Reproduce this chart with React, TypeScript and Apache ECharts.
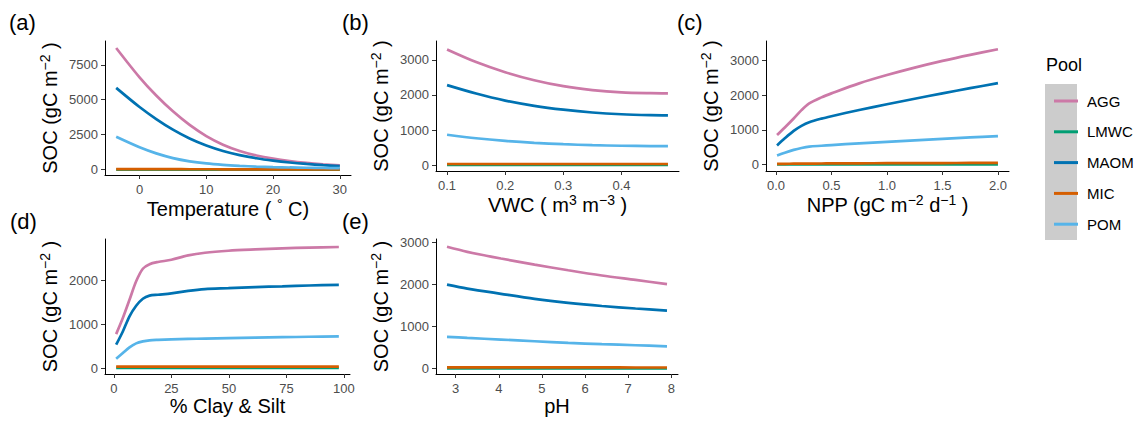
import React, { useEffect, useRef } from "react";
import * as echarts from "echarts";

const FONT = "'Liberation Sans', Arial, Helvetica, sans-serif";
const POOLS = ["AGG", "LMWC", "MAOM", "MIC", "POM"];
const COLORS = ["#CC79A7", "#009E73", "#0072B2", "#D55E00", "#56B4E9"];

// (a) Temperature
const tempX = [-3.5, 0, 2.5, 5, 7.5, 10, 12.5, 15, 17.5, 20, 22.5, 25, 27.5, 30];
const tempAGG = [8700, 6600, 5300, 4170, 3200, 2405, 1790, 1340, 1017, 785, 613, 483, 384, 306];
const tempLMWC = [4, 4, 3, 3, 3, 3, 2, 2, 2, 2, 2, 2, 2, 2];
const tempMAOM = [5850, 4480, 3620, 2860, 2230, 1730, 1340, 1045, 820, 650, 515, 410, 325, 258];
const tempMIC = [40, 38, 36, 34, 32, 30, 29, 28, 27, 26, 25, 24, 23, 22];
const tempPOM = [2350, 1600, 1165, 830, 600, 445, 345, 275, 222, 185, 158, 137, 120, 107];

// (b) VWC
const vwcX = [0.1, 0.15, 0.2, 0.25, 0.3, 0.35, 0.4, 0.45, 0.48];
const vwcAGG = [3300, 2940, 2650, 2420, 2250, 2140, 2075, 2050, 2045];
const vwcLMWC = [3, 3, 3, 3, 3, 3, 3, 3, 3];
const vwcMAOM = [2280, 2040, 1840, 1690, 1580, 1500, 1450, 1425, 1420];
const vwcMIC = [30, 30, 30, 30, 30, 30, 30, 30, 30];
const vwcPOM = [865, 765, 690, 635, 595, 567, 550, 542, 540];

// (c) NPP
const nppX = [0.01, 0.08, 0.16, 0.23, 0.3, 0.41, 0.5, 0.75, 1.0, 1.25, 1.5, 1.75, 2.0];
const nppAGG = [850, 1070, 1330, 1570, 1765, 1940, 2055, 2345, 2585, 2800, 2995, 3170, 3330];
const nppLMWC = [1, 1, 1, 1, 2, 2, 2, 2, 3, 3, 3, 3, 4];
const nppMAOM = [550, 755, 970, 1115, 1220, 1325, 1395, 1575, 1740, 1900, 2055, 2205, 2350];
const nppMIC = [15, 18, 21, 23, 25, 27, 29, 32, 35, 38, 40, 43, 45];
const nppPOM = [260, 340, 420, 475, 515, 540, 560, 610, 655, 698, 740, 780, 820];

// (d) % Clay & Silt
const claysiltX = [1, 3.9, 6.8, 9.7, 12.6, 15.5, 19.2, 25, 32.3, 39.6, 49.8, 61.5, 73.2, 84.9, 97.8];
const claysiltAGG = [770, 1135, 1550, 1970, 2255, 2360, 2410, 2460, 2560, 2620, 2665, 2695, 2720, 2735, 2750];
const claysiltLMWC = [1, 1, 1, 1, 1, 1, 1, 1, 1, 1, 1, 1, 1, 1, 1];
const claysiltMAOM = [530, 830, 1175, 1415, 1575, 1645, 1665, 1695, 1755, 1795, 1815, 1840, 1855, 1875, 1890];
const claysiltMIC = [30, 30, 30, 30, 30, 30, 30, 30, 30, 30, 30, 30, 30, 30, 30];
const claysiltPOM = [210, 340, 470, 560, 605, 630, 640, 650, 660, 670, 680, 690, 700, 710, 720];

// (e) pH
const phX = [2.8, 3.27, 4.05, 4.83, 5.61, 6.39, 7.17, 7.9];
const phAGG = [2900, 2780, 2620, 2475, 2340, 2215, 2110, 2010];
const phLMWC = [2, 2, 2, 2, 2, 2, 2, 2];
const phMAOM = [2000, 1905, 1780, 1660, 1565, 1490, 1430, 1380];
const phMIC = [28, 28, 27, 27, 26, 26, 25, 25];
const phPOM = [755, 730, 690, 650, 610, 580, 555, 530];

// tick labels
const tempTicksX = [0, 10, 20, 30];
const tempTicksY = [0, 2500, 5000, 7500];
const vwcTicksX = [0.1, 0.2, 0.3, 0.4];
const vwcTicksY = [0, 1000, 2000, 3000];
const nppTicksX = [0, 0.5, 1.0, 1.5, 2.0];
const nppTicksY = [0, 1000, 2000, 3000];
const claysiltTicksX = [0, 25, 50, 75, 100];
const claysiltTicksY = [0, 1000, 2000];
const phTicksX = [3, 4, 5, 6, 7, 8];
const phTicksY = [0, 1000, 2000, 3000];

const panelTags = ["(a)", "(b)", "(c)", "(d)", "(e)"];

const Y_NAME = "{t|SOC (gC m}{s|−2}{t| )}";

const rich = {
  t: { fontSize: 20, fontFamily: FONT, color: "#000", lineHeight: 24, verticalAlign: "middle" },
  s: { fontSize: 14, fontFamily: FONT, color: "#000", lineHeight: 12, verticalAlign: "top" },
};

export default function App() {
  const ref = useRef<HTMLDivElement>(null);
  useEffect(() => {
    if (!ref.current) return;
    const chart = echarts.init(ref.current, undefined, { renderer: "svg" });

    const panels = [
      { x: tempX, ys: [tempAGG, tempLMWC, tempMAOM, tempMIC, tempPOM], tx: tempTicksX, ty: tempTicksY,
        xmin: -5.175, xmax: 31.675, ymin: -380, ymax: 9200,
        grid: { left: 105, top: 41, width: 246, height: 134 },
        xName: "{t|Temperature ( }{s|°}{t| C)}", xGap: 18, dec: 0 },
      { x: vwcX, ys: [vwcAGG, vwcLMWC, vwcMAOM, vwcMIC, vwcPOM], tx: vwcTicksX, ty: vwcTicksY,
        xmin: 0.081, xmax: 0.499, ymin: -170, ymax: 3540,
        grid: { left: 436, top: 41, width: 243, height: 130 },
        xName: "{t|VWC ( m}{s|3}{t| m}{s|−3}{t| )}", xGap: 22, dec: 1 },
      { x: nppX, ys: [nppAGG, nppLMWC, nppMAOM, nppMIC, nppPOM], tx: nppTicksX, ty: nppTicksY,
        xmin: -0.0895, xmax: 2.0995, ymin: -190, ymax: 3570,
        grid: { left: 766, top: 41, width: 243, height: 130 },
        xName: "{t|NPP (gC m}{s|−2}{t| d}{s|−1}{t| )}", xGap: 22, dec: 1 },
      { x: claysiltX, ys: [claysiltAGG, claysiltLMWC, claysiltMAOM, claysiltMIC, claysiltPOM], tx: claysiltTicksX, ty: claysiltTicksY,
        xmin: -3.85, xmax: 102.65, ymin: -136, ymax: 2932,
        grid: { left: 105, top: 239, width: 245, height: 135 },
        xName: "{t|% Clay & Silt}", xGap: 18, dec: 0 },
      { x: phX, ys: [phAGG, phLMWC, phMAOM, phMIC, phPOM], tx: phTicksX, ty: phTicksY,
        xmin: 2.545, xmax: 8.155, ymin: -130, ymax: 3085,
        grid: { left: 436, top: 239, width: 242, height: 135 },
        xName: "{t|pH}", xGap: 18, dec: 0 },
    ];

    const axisCommon = {
      axisLine: { onZero: false, lineStyle: { color: "#000", width: 1 } },
      axisTick: { length: 4, lineStyle: { color: "#333", width: 1 } },
      splitLine: { show: false },
    };

    const grids = panels.map((p) => p.grid);
    const xAxes = panels.map((p, i) => ({
      type: "value",
      gridIndex: i,
      min: p.xmin,
      max: p.xmax,
      ...axisCommon,
      axisTick: { ...axisCommon.axisTick, customValues: p.tx },
      axisLabel: {
        customValues: p.tx,
        color: "#4D4D4D",
        fontSize: 13,
        fontFamily: FONT,
        margin: 8,
        formatter: (v: number) => (p.dec ? v.toFixed(p.dec) : String(v)),
      },
      name: p.xName,
      nameLocation: "middle",
      nameGap: p.xGap,
      nameTextStyle: { rich },
    }));
    const yAxes = panels.map((p, i) => ({
      type: "value",
      gridIndex: i,
      min: p.ymin,
      max: p.ymax,
      ...axisCommon,
      axisTick: { ...axisCommon.axisTick, customValues: p.ty },
      axisLabel: {
        customValues: p.ty,
        color: "#4D4D4D",
        fontSize: 13,
        fontFamily: FONT,
        margin: 7,
        formatter: (v: number) => String(v),
      },
      name: Y_NAME,
      nameLocation: "middle",
      nameGap: 43,
      nameTextStyle: { rich },
    }));

    const series: any[] = [];
    panels.forEach((p, gi) => {
      POOLS.forEach((pool, k) => {
        series.push({
          type: "line",
          name: pool,
          xAxisIndex: gi,
          yAxisIndex: gi,
          data: p.x.map((xv, j) => [xv, p.ys[k][j]]),
          showSymbol: false,
          symbol: "none",
          smooth: 0.3,
          lineStyle: { color: COLORS[k], width: 2.7 },
          itemStyle: { color: COLORS[k] },
          z: 2 + k,
        });
      });
    });

    const tagPos = [
      [9, 22], [342, 22], [677, 22], [10, 221], [342, 221],
    ];

    const graphic: any[] = [
      ...panelTags.map((t, i) => ({
        type: "text",
        x: tagPos[i][0],
        y: tagPos[i][1],
        style: { text: t, fill: "#000", fontSize: 22, fontFamily: FONT, verticalAlign: "middle", align: "left" },
      })),
      {
        type: "text",
        x: 1046,
        y: 65,
        style: { text: "Pool", fill: "#000", fontSize: 18, fontFamily: FONT, verticalAlign: "middle", align: "left" },
      },
      {
        type: "rect",
        shape: { x: 1045, y: 84, width: 32, height: 156 },
        style: { fill: "#CCCCCC" },
        z: -1,
      },
    ];

    chart.setOption({
      animation: false,
      backgroundColor: "#fff",
      textStyle: { fontFamily: FONT },
      grid: grids,
      xAxis: xAxes,
      yAxis: yAxes,
      series,
      legend: {
        data: POOLS,
        orient: "vertical",
        left: 1049,
        top: 87,
        itemWidth: 24,
        itemHeight: 3,
        itemGap: 12.8,
        icon: "rect",
        selectedMode: false,
        textStyle: { fontSize: 15, lineHeight: 18, color: "#000", fontFamily: FONT, padding: [0, 0, 0, 4] },
      },
      graphic,
    });

    return () => chart.dispose();
  }, []);

  return (
    <div
      ref={ref}
      style={{ position: "fixed", left: 0, top: 0, width: 1139, height: 421, background: "#fff" }}
    />
  );
}
